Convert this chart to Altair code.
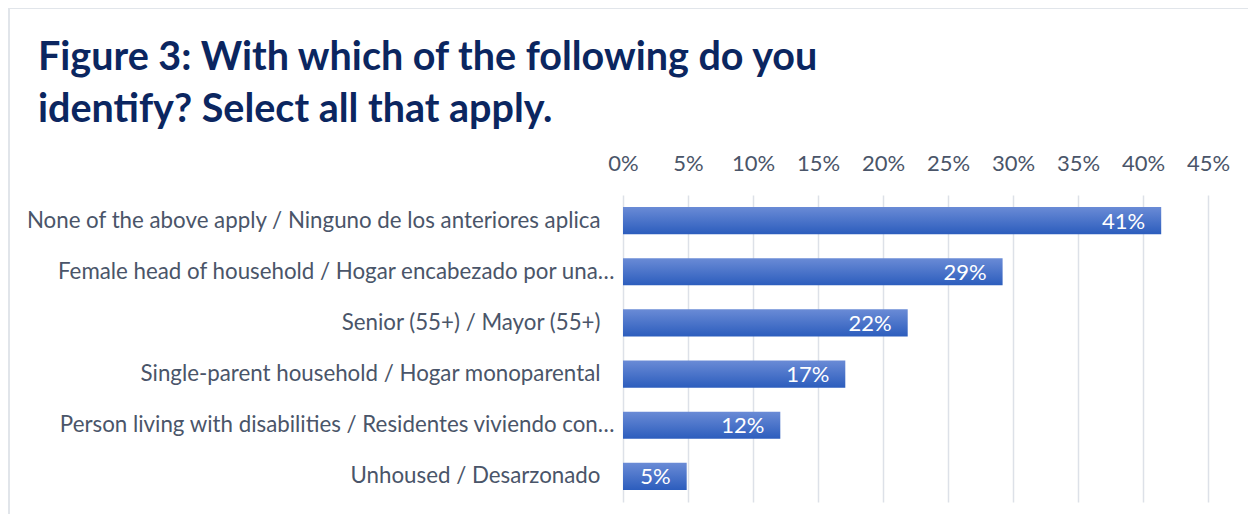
import altair as alt
import pandas as pd

categories = [
    "None of the above apply / Ninguno de los anteriores aplica",
    "Female head of household / Hogar encabezado por una…",
    "Senior (55+) / Mayor (55+)",
    "Single-parent household / Hogar monoparental",
    "Person living with disabilities / Residentes viviendo con…",
    "Unhoused / Desarzonado",
]
values = [0.414, 0.292, 0.219, 0.171, 0.121, 0.049]
value_labels = ["41%", "29%", "22%", "17%", "12%", "5%"]
tick_values = [0, 0.05, 0.10, 0.15, 0.20, 0.25, 0.30, 0.35, 0.40, 0.45]

df = pd.DataFrame({"category": categories, "value": values, "label": value_labels})

FONT = "Lato"
TEXT_COLOR = "#4a5569"

y_enc = alt.Y(
    "category:N",
    sort=categories,
    scale=alt.Scale(paddingInner=0.47, paddingOuter=0.235),
    axis=alt.Axis(
        title=None, domain=False, ticks=False, labelLimit=800,
        labelFont=FONT, labelFontSize=22.3, labelColor=TEXT_COLOR,
        labelPadding={"condition": {"test": "indexof(datum.label, '…') >= 0", "value": 9}, "value": 23},
    ),
)
x_enc = alt.X(
    "value:Q",
    scale=alt.Scale(domain=[0, 0.45], nice=False),
    axis=alt.Axis(
        orient="top", title=None, values=tick_values, format=".0%",
        domain=False, ticks=False, grid=True, gridColor="#dde1e8", gridWidth=1.5,
        labelFont=FONT, labelFontSize=22, labelColor=TEXT_COLOR, labelPadding=20,
        labelFlush=False, labelOverlap=False,
    ),
)

bars = alt.Chart(df).mark_bar(
    color=alt.Gradient(
        gradient="linear", x1=0, x2=0, y1=0, y2=1,
        stops=[alt.GradientStop(offset=0, color="#6a8bd6"),
               alt.GradientStop(offset=1, color="#2c5dbd")],
    )
).encode(x=x_enc, y=y_enc)

texts = alt.Chart(df).mark_text(
    align="right", baseline="middle", dx=-16, dy=1, color="white",
    font=FONT, fontSize=22,
).encode(x="value:Q", y=alt.Y("category:N", sort=categories), text="label:N")

border = alt.Chart(alt.Data(values=[{}])).mark_rect(
    fill=None, stroke="#e1e5ea", strokeWidth=2
).encode(
    x=alt.value(-614), x2=alt.value(700), y=alt.value(-187), y2=alt.value(400)
)

chart = alt.layer(border, bars, texts).properties(
    width=585,
    height=307,
    padding={"left": 615, "top": 187, "right": 40, "bottom": 12},
    autosize=alt.AutoSizeParams(type="none"),
    title=alt.TitleParams(
        text=["Figure 3: With which of the following do you", "identify? Select all that apply."],
        anchor="start", frame="group", dx=-585, dy=127,
        font=FONT, fontSize=39.5, fontWeight="bold", color="#0b2660", lineHeight=52,
    ),
).configure_view(stroke=None)

chart.save("out.html", embed_options={"renderer": "svg", "actions": False})
